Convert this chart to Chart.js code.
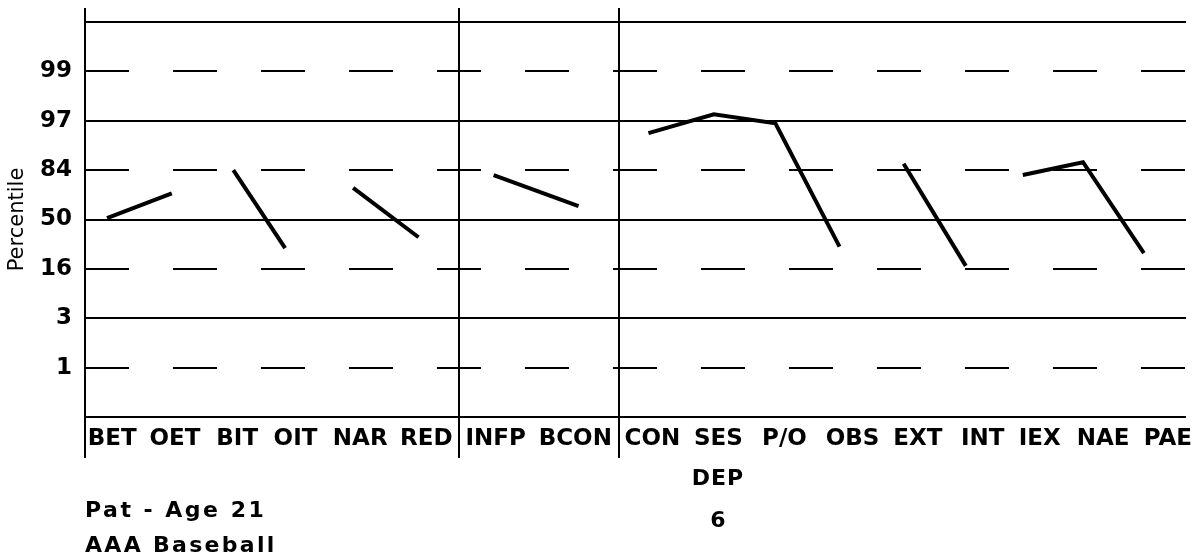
<!DOCTYPE html>
<html>
<head>
<meta charset="utf-8">
<script src="https://cdn.jsdelivr.net/npm/chart.js@4/dist/chart.umd.min.js"></script>
<style>
  body { margin: 0; background: #fff; }
  #wrap { position: relative; width: 1196px; height: 558px; }
  .note { position: absolute; font: bold 22px "DejaVu Sans"; line-height: 24px; color: #000; white-space: nowrap; }
</style>
</head>
<body>
<div id="wrap">
  <canvas id="chart" width="1196" height="558"></canvas>
  <div class="note" style="left:85px;top:498px;letter-spacing:2.5px">Pat - Age 21</div>
  <div class="note" style="left:85px;top:533px;letter-spacing:2.3px">AAA Baseball</div>
  <div class="note" style="left:718px;top:466px;transform:translateX(-50%);letter-spacing:1px">DEP</div>
  <div class="note" style="left:718px;top:508px;transform:translateX(-50%)">6</div>
</div>
<script>
// scale categories
const cats = ['BET', 'OET', 'BIT', 'OIT', 'NAR', 'RED', 'INFP', 'BCON',
    'CON', 'SES', 'P/O', 'OBS', 'EXT', 'INT', 'IEX', 'NAE', 'PAE'];
// where each label and point sits along the x axis (slot units)
const labelPos = [0.42, 1.39, 2.35, 3.25, 4.25, 5.27, 6.34, 7.57,
    8.76, 9.78, 10.8, 11.85, 12.86, 13.86, 14.74, 15.72, 16.72];
const pointPos = [0.34, 1.34, 2.29, 3.09, 4.14, 5.15, 6.31, 7.62,
    8.70, 9.71, 10.66, 11.65, 12.64, 13.60, 14.48, 15.41, 16.35];
// group dividers (after RED, after BCON)
const dividers = [0, 5.77, 8.24];
// score band (0..8), 4 = 50th percentile
const scores = [4.03, 4.53, 5.0, 3.42, 4.64, 3.64, 4.9, 4.27,
    5.75, 6.13, 5.95, 3.45, 5.13, 3.06, 4.9, 5.16, 3.32];
// 1 = joined to the next scale
const joined = [1, 0, 1, 0, 1, 0, 1, 0, 1, 1, 1, 0, 1, 0, 1, 1, 0];
// percentile tick labels for bands 0..8
const yLabels = ['', '1', '3', '16', '50', '84', '97', '99', ''];

const tickFont = { family: 'DejaVu Sans', size: 23, weight: 'bold' };

// vertical axis + group dividers, longer than the plot
const dividerPlugin = {
    id: 'dividers',
    afterDraw(chart) {
        const ctx = chart.ctx;
        const x = chart.scales.x;
        ctx.save();
        ctx.strokeStyle = '#000';
        ctx.lineWidth = 2;
        dividers.forEach(v => {
            const px = Math.round(x.getPixelForValue(v));
            ctx.beginPath();
            ctx.moveTo(px, 8);
            ctx.lineTo(px, 458);
            ctx.stroke();
        });
        ctx.restore();
    }
};

new Chart(document.getElementById('chart'), {
    type: 'line',
    data: {
        datasets: [{
            data: scores.map((v, i) => ({ x: pointPos[i], y: v })),
            borderColor: '#000',
            borderWidth: 4,
            pointRadius: 0,
            tension: 0,
            segment: {
                borderColor: ctx => joined[ctx.p0DataIndex] ? '#000' : 'rgba(0,0,0,0)'
            }
        }]
    },
    options: {
        responsive: false,
        animation: false,
        layout: { padding: { top: 22, right: 10, bottom: 0, left: 0 } },
        plugins: { legend: { display: false }, tooltip: { enabled: false } },
        scales: {
            x: {
                type: 'linear',
                min: 0,
                max: 17,
                afterBuildTicks: axis => { axis.ticks = labelPos.map(v => ({ value: v })); },
                afterFit: axis => { axis.height = 141; axis.paddingLeft = 0; axis.paddingRight = 0; },
                grid: { display: false, drawTicks: false },
                border: { display: false },
                ticks: {
                    autoSkip: false,
                    maxRotation: 0,
                    padding: 8,
                    color: '#000',
                    font: tickFont,
                    callback: (value, index) => cats[index]
                }
            },
            y: {
                min: 0,
                max: 8,
                afterFit: axis => { axis.width = 85; axis.paddingTop = 0; axis.paddingBottom = 0; },
                grid: { color: '#000', lineWidth: 2, drawTicks: false },
                border: {
                    display: false,
                    dash: ctx => (ctx.tick && ctx.tick.value % 2 === 1) ? [44, 44] : []
                },
                ticks: {
                    stepSize: 1,
                    padding: 13,
                    color: '#000',
                    font: tickFont,
                    callback: value => yLabels[value]
                },
                title: {
                    display: true,
                    text: 'Percentile',
                    color: '#000',
                    padding: { top: 5 },
                    font: { family: 'DejaVu Sans', size: 21 }
                }
            }
        }
    },
    plugins: [dividerPlugin]
});
</script>
</body>
</html>
